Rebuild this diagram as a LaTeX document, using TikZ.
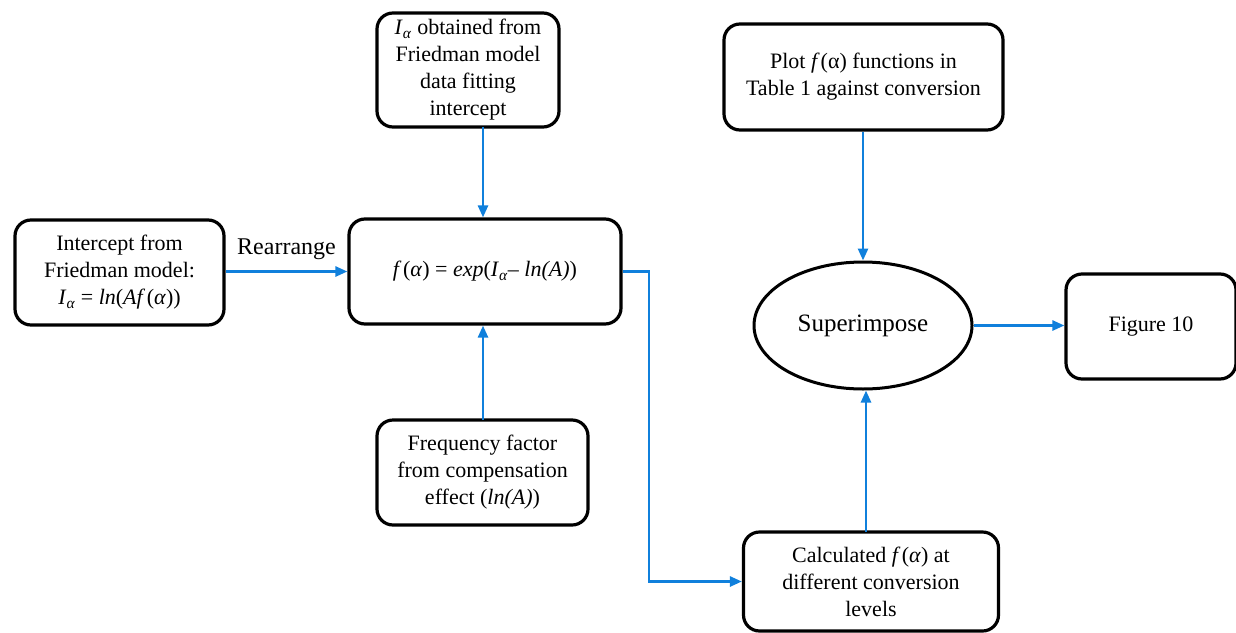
\documentclass[tikz,border=0pt]{standalone}
\usepackage{fontspec}
\setmainfont{Liberation Serif}
\usetikzlibrary{arrows.meta,shapes.geometric}
\definecolor{flowblue}{RGB}{16,128,220}
\newcommand{\myIa}{\textit{I}\textsubscript{\textit{α}}}
\newcommand{\myfa}{\textit{f}\kern1.5pt(\textit{α})}
\tikzset{
  box/.style={draw=black, line width=3.2pt, rounded corners=16pt, align=center, inner sep=0pt,
    font=\fontsize{22}{27}\selectfont},
  oval/.style={draw=black, line width=3pt, ellipse, inner sep=0pt, font=\fontsize{25}{28}\selectfont},
  conn/.style={draw=flowblue, line width=2.6pt, -{Triangle[length=12pt,width=10pt]}},
  lbl/.style={font=\fontsize{24}{27}\selectfont, inner sep=0pt}
}
\begin{document}
\begin{tikzpicture}[x=1pt,y=-1pt]
\useasboundingbox (0,0) rectangle (1236,632);
\node[box, minimum width=209pt, minimum height=105pt] (icpt) at (119.5,272.5)
  {Intercept from\\Friedman model:\\\myIa\ = \textit{ln}(\textit{Af}\kern1.5pt(\textit{α}))};
\node[box, minimum width=272pt, minimum height=105pt] (form) at (485,271.5)
  {\myfa\ = \textit{exp}(\myIa{}– \textit{ln(A)})};
\node[box, minimum width=182pt, minimum height=114pt] (fit) at (468,70)
  {\myIa\ obtained from\\Friedman model\\data fitting\\intercept};
\node[box, minimum width=211pt, minimum height=105pt] (freq) at (482.5,472.5)
  {Frequency factor\\from compensation\\effect (\textit{ln(A)})};
\node[box, minimum width=279pt, minimum height=106pt] (plot) at (863.5,77)
  {Plot \textit{f}\kern1pt(α) functions in\\Table 1 against conversion};
\node[oval, minimum width=218pt, minimum height=127pt] (sup) at (863,325.5) {Superimpose};
\node[box, minimum width=170pt, minimum height=105pt] (fig) at (1151,326.5) {Figure 10};
\node[box, minimum width=255pt, minimum height=99pt] (calc) at (871,581.5)
  {Calculated \myfa\ at\\different conversion\\levels};

\path[conn] (icpt.east |- form.west) -- node[lbl, above=11pt] {Rearrange} (form.west);
\coordinate (fitend) at (483,127);
\path[conn] (fitend) -- (fitend |- form.north);
\coordinate (freqend) at (483,420);
\path[conn] (freqend) -- (freqend |- form.south);
\coordinate (bend) at (649,0);
\path[conn] (form.east) -- (bend |- form.east) -- (bend |- calc.west) -- (calc.west);
\path[conn] (plot.south -| sup.north) -- (sup.north);
\coordinate (calcend) at (866,532);
\path[conn] (calcend) -- (calcend |- sup.south);
\path[conn] (sup.east) -- (fig.west |- sup.east);
\end{tikzpicture}
\end{document}
